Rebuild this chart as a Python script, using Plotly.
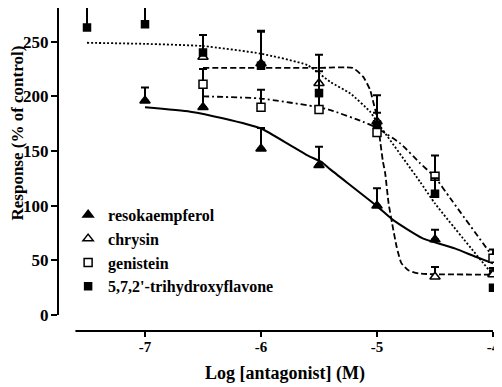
import plotly.graph_objects as go

# ---- data (log molar antagonist vs response % of control) ----
reso_x = [-7, -6.5, -6, -5.5, -5, -4.5, -4]
reso_y = [196, 190, 152, 137, 100, 69, 38]
reso_err = [12, 35, 19, 17, 16, 9, 5]

chrysin_x = [-6.5, -6, -5.5, -5, -4.5, -4]
chrysin_y = [236, 230, 212, 177, 35, 37]
chrysin_err = [20, 29, 26, 24, 9, 4]

genistein_x = [-6.5, -6, -5.5, -5, -4.5, -4]
genistein_y = [211, 190, 188, 167, 127, 52]
genistein_err = [14, 16, 12, 10, 19, 8]

trihyd_x = [-7.5, -7, -6.5, -6, -5.5, -5, -4.5, -4]
trihyd_y = [263, 266, 240, 228, 203, 174, 111, 25]
trihyd_err = [21, 18, 16, 32, 20, 11, 14, 0]

# fitted curves, points
reso_fit_x = [-7, -6.61, -6.33, -6, -5.75, -5.6, -5.48, -5.4, -5, -4.86, -4.61, -4.33, -4.15, -4]
reso_fit_y = [190, 186, 180, 170.6, 155.4, 146, 140, 133, 99.6, 86.8, 70.4, 61, 53.3, 47.3]

chrysin_fit_x = [-6.5, -5.5, -5.21, -5.12, -5.06, -5.03, -5.0, -4.97, -4.95, -4.93,
                 -4.9, -4.87, -4.83, -4.79, -4.73, -4.64, -4]
chrysin_fit_y = [226, 226, 226, 218, 206, 194, 181, 157, 141, 130,
                 102, 84, 62, 47.5, 41, 38, 37]

genistein_fit_x = [-6.5, -6, -5.5, -5.4, -5.12, -5.0, -4.8, -4.63, -4.5, -4.37, -4]
genistein_fit_y = [200, 198, 190, 187.4, 176.7, 171, 157, 139, 126, 107, 53]

trihyd_fit_x = [-7.5, -7, -6.5, -6, -5.6, -5.4, -5.23, -5.06, -5.0, -4.63, -4.5, -4.0]
trihyd_fit_y = [249, 248, 246, 239, 228.5, 213, 202.6, 186, 176.7, 122, 102, 36.6]

names = ["resokaempferol", "chrysin", "genistein", "5,7,2'-trihydroxyflavone"]
y_ticks = [0, 50, 100, 150, 200, 250]
x_ticks = [-7, -6, -5, -4]
x_ticktext = ["-7", "-6", "-5", "-4"]
x_title = "Log [antagonist] (M)"
y_title = "Response (% of control)"

FONT = "Liberation Serif"
fig = go.Figure()

# curves
curve_specs = [
    (reso_fit_x, reso_fit_y, "solid", 2),
    (chrysin_fit_x, chrysin_fit_y, "6px,3px", 1.8),
    (genistein_fit_x, genistein_fit_y, "6px,3px,2px,3px", 1.8),
    (trihyd_fit_x, trihyd_fit_y, "2px,2px", 1.8),
]
for cx, cy, dash, w in curve_specs:
    fig.add_trace(go.Scatter(x=cx, y=cy, mode="lines", showlegend=False,
                             line=dict(color="black", width=w, dash=dash,
                                       shape="spline", smoothing=0.5),
                             hoverinfo="skip"))

# points with upward error bars
pt_specs = [
    (reso_x, reso_y, reso_err, "triangle-up", "black", 9),
    (chrysin_x, chrysin_y, chrysin_err, "triangle-up", "white", 9),
    (genistein_x, genistein_y, genistein_err, "square", "white", 8),
    (trihyd_x, trihyd_y, trihyd_err, "square", "black", 7),
]
for i, (px, py, pe, sym, fill, sz) in enumerate(pt_specs):
    fig.add_trace(go.Scatter(
        x=px, y=py, mode="markers", name=names[i], legendgroup=str(i),
        cliponaxis=False,
        marker=dict(symbol=sym, color=fill, size=sz,
                    line=dict(color="black", width=1.5)),
        error_y=dict(type="data", symmetric=False, array=pe,
                     arrayminus=[0] * len(pe), color="black",
                     thickness=2, width=4),
    ))

# detached axis lines (Prism style)
fig.add_shape(type="line", xref="paper", yref="paper", x0=0, x1=0,
              y0=14.6 / (280.8 + 14.6), y1=1,
              line=dict(color="black", width=2))
fig.add_shape(type="line", xref="x", yref="paper", x0=-7.6, x1=-4, y0=0, y1=0,
              line=dict(color="black", width=2))

# axis titles
fig.add_annotation(text=x_title, xref="paper", yref="paper", x=0.516, y=-0.133,
                   xanchor="center", yanchor="middle", showarrow=False,
                   font=dict(family=FONT, size=18, weight="bold", color="black"))
fig.add_annotation(text=y_title, xref="paper", yref="paper", x=-0.0943, y=0.613,
                   xanchor="center", yanchor="middle", showarrow=False,
                   textangle=-90,
                   font=dict(family=FONT, size=17, weight="bold", color="black"))

fig.update_layout(
    width=494, height=379,
    margin=dict(l=50, r=4, t=0, b=56),
    paper_bgcolor="white", plot_bgcolor="white",
    font=dict(family=FONT, color="black", size=16, weight="bold"),
    showlegend=True,
    legend=dict(x=0.023, y=0.412, xanchor="left", yanchor="top",
                bgcolor="rgba(0,0,0,0)", traceorder="grouped",
                tracegroupgap=0,
                font=dict(family=FONT, size=16, weight="bold")),
    xaxis=dict(range=[-7.75, -3.957], tickvals=x_ticks, ticktext=x_ticktext,
               ticks="outside", ticklen=5, tickwidth=2, tickcolor="black",
               showgrid=False, zeroline=False, showline=False,
               ticklabelstandoff=-3,
               tickfont=dict(family=FONT, size=15, weight="bold")),
    yaxis=dict(range=[-14.6, 280.8], tickvals=y_ticks,
               ticks="outside", ticklen=6, tickwidth=2, tickcolor="black",
               showgrid=False, zeroline=False, showline=False,
               ticklabelstandoff=-1,
               tickfont=dict(family=FONT, size=17, weight="bold")),
)

fig.write_html("out.html")
